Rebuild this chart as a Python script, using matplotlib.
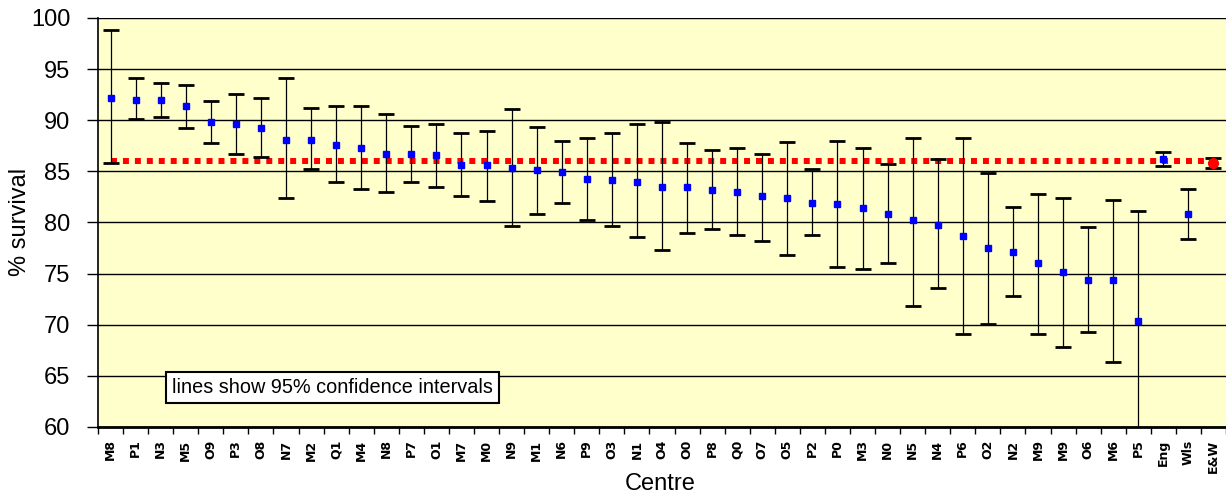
import matplotlib.pyplot as plt
import numpy as np

centres = ['M8', 'P1', 'N3', 'M5', 'O9', 'P3', 'O8', 'N7', 'M2', 'Q1', 'M4', 'N8',
           'P7', 'O1', 'M7', 'M0', 'N9', 'M1', 'N6', 'P9', 'O3', 'N1', 'O4', 'O0',
           'P8', 'Q0', 'O7', 'O5', 'P2', 'P0', 'M3', 'N0', 'N5', 'N4', 'P6', 'O2',
           'N2', 'M9', 'M9', 'O6', 'M6', 'P5', 'Eng', 'Wls', 'E&W']
survival = [92.2, 92.0, 92.0, 91.4, 89.8, 89.6, 89.2, 88.1, 88.1, 87.6, 87.3, 86.7,
            86.7, 86.6, 85.6, 85.6, 85.3, 85.1, 84.9, 84.3, 84.2, 84.0, 83.5, 83.5,
            83.2, 83.0, 82.6, 82.4, 81.9, 81.8, 81.4, 80.8, 80.2, 79.8, 78.7, 77.5,
            77.1, 76.0, 75.2, 74.4, 74.4, 70.4, 86.2, 80.8, 85.8]
lower = [85.8, 90.1, 90.3, 89.2, 87.8, 86.7, 86.4, 82.4, 85.2, 84.0, 83.3, 83.0,
         84.0, 83.5, 82.6, 82.1, 79.7, 80.8, 81.9, 80.2, 79.7, 78.6, 77.3, 79.0,
         79.4, 78.8, 78.2, 76.8, 78.8, 75.6, 75.5, 76.0, 71.8, 73.6, 69.1, 70.1,
         72.8, 69.1, 67.8, 69.3, 66.4, 59.5, 85.55, 78.4, 85.3]
upper = [98.8, 94.1, 93.6, 93.4, 91.9, 92.6, 92.2, 94.1, 91.2, 91.4, 91.4, 90.6,
         89.4, 89.6, 88.8, 88.9, 91.1, 89.3, 88.0, 88.3, 88.8, 89.6, 89.8, 87.8,
         87.1, 87.3, 86.7, 87.9, 85.2, 88.0, 87.3, 85.7, 88.3, 86.2, 88.3, 84.8,
         81.5, 82.8, 82.4, 79.6, 82.2, 81.1, 86.9, 83.3, 86.35]
national = 86.05

x = np.arange(len(centres))
y = np.array(survival)
err = [y - np.array(lower), np.array(upper) - y]

fig = plt.figure(figsize=(12.26, 4.97), dpi=100)
ax = fig.add_axes([98/1226, 70/497, 1128/1226, 409/497])
ax.set_facecolor('#FFFFCC')

for v in range(60, 101, 5):
    ax.axhline(v, color='black', lw=1, zorder=1)

ax.plot([0, len(centres) - 1], [national, national], color='#FF0000', lw=4.3,
        linestyle=(0, (1, 1)), zorder=2)

ax.errorbar(x, y, yerr=err, fmt='none', ecolor='black', elinewidth=0.9,
            capsize=6, capthick=2, zorder=3)
ax.plot(x[:-1], y[:-1], 's', color='#0000FF', markersize=5, zorder=4)
ax.plot(x[-1:], y[-1:], 'o', color='#FF0000', markersize=7, zorder=4)

ax.set_xlim(-0.5, len(centres) - 0.5)
ax.set_ylim(60, 100)
ax.set_yticks(range(60, 101, 5))
ax.tick_params(axis='y', length=8, width=1, pad=12, labelsize=17)
ax.set_xticks(x)
ax.set_xticklabels(centres, rotation=90, fontsize=9, fontweight='bold',
                   family='DejaVu Sans')
ax.tick_params(axis='x', length=0, pad=9)
ax.set_xticks(np.arange(len(centres) + 1) - 0.5, minor=True)
ax.tick_params(axis='x', which='minor', length=5, width=1)
for lab in ax.get_yticklabels():
    lab.set_family('Liberation Sans')

ax.spines['top'].set_visible(False)
ax.spines['right'].set_visible(False)
ax.spines['bottom'].set_linewidth(2)
ax.spines['left'].set_linewidth(1.2)

fig.text(20/1226, 1 - 222/497, '% survival', rotation=90, fontsize=17,
         family='Liberation Sans', ha='center', va='center')
fig.text(660/1226, 1 - 484/497, 'Centre', fontsize=17,
         family='Liberation Sans', ha='center', va='center')

ax.text(0.066, 0.097, 'lines show 95% confidence intervals',
        transform=ax.transAxes, fontsize=14.3, family='Liberation Sans',
        va='center', ha='left',
        bbox=dict(boxstyle='square,pad=0.3', facecolor='white',
                  edgecolor='black', lw=1.5), zorder=5)

fig.savefig('out.png', dpi=100)
